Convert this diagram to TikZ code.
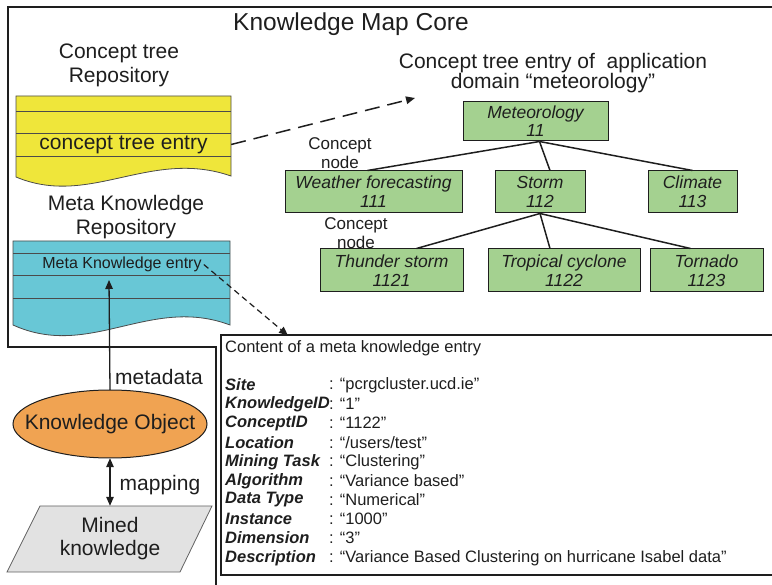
\documentclass[tikz,border=0pt]{standalone}
\usepackage{fontspec}
\setmainfont{Liberation Sans}
\usetikzlibrary{arrows.meta,calc}

\definecolor{frameink}{HTML}{1E1E1E}
\definecolor{docyellow}{HTML}{EFE63A}
\definecolor{doccyan}{HTML}{68C7D6}
\definecolor{objorange}{HTML}{F0A352}
\definecolor{minedgray}{HTML}{E2E2E2}
\definecolor{treegreen}{HTML}{A4D190}

\newcommand{\fsz}[2]{\fontsize{#1}{#2}\selectfont}

\tikzset{
  heading/.style={align=center, inner sep=0pt, font=\fsz{21}{24}},
  treebox/.style={draw=frameink, line width=1pt, fill=treegreen, align=center,
    inner sep=0pt, font=\fsz{17.5}{19}\itshape},
  treeedge/.style={line width=1.5pt, draw=frameink},
  smalllabel/.style={align=center, inner sep=0pt, font=\fsz{17}{19}},
  fieldname/.style={anchor=west, inner sep=0pt, font=\fsz{16.5}{19}\bfseries\itshape},
  fieldvalue/.style={anchor=west, inner sep=0pt, font=\fsz{16.5}{19}},
  docshape/.style={draw=frameink!80, line width=0.8pt},
  tip/.style={-{Triangle[length=9pt,width=7.5pt]}},
}

\begin{document}
\begin{tikzpicture}[x=1pt, y=-1pt, text=frameink]
\useasboundingbox (0,0) rectangle (772,585);

% outer frame of the knowledge map core
\draw[line width=2.2pt, draw=frameink] (790,7) -- (8,7) -- (8,347) -- (216,347) -- (216,600);

\node[inner sep=0pt, font=\fsz{24.5}{28}] (title) at (351,24) {Knowledge Map Core};

% concept tree repository (document shape)
\node[heading] (ctrepo) at (119,65) {Concept tree\\Repository};
\fill[docyellow] (16,96) -- (231,96) -- (231,176)
  .. controls (150,148) and (90,208) .. (16,177) -- cycle;
\draw[docshape] (16,96) -- (231,96) -- (231,176)
  .. controls (150,148) and (90,208) .. (16,177) -- cycle;
\foreach \yy in {111,133,156} \draw[docshape] (16,\yy) -- (231,\yy);
\node[minimum width=215pt, minimum height=23pt, inner sep=0pt, font=\fsz{21}{24}]
  (ctentry) at (123.5,144.5) {concept tree entry};

% meta knowledge repository (document shape)
\node[heading] (mkrepo) at (126,217) {Meta Knowledge\\Repository};
\fill[doccyan] (13,241) -- (230,241) -- (230,325)
  .. controls (150,295) and (90,360) .. (13,325) -- cycle;
\draw[docshape] (13,241) -- (230,241) -- (230,325)
  .. controls (150,295) and (90,360) .. (13,325) -- cycle;
\foreach \yy in {253,275,298} \draw[docshape] (13,\yy) -- (230,\yy);
\node[inner sep=2pt, font=\fsz{16}{19}] (mkentry) at (122,264.5) {Meta Knowledge entry};
\coordinate (mktarget) at (109,280);

% concept tree of the meteorology domain
\node[heading, font=\fsz{21}{20}] (treetitle) at (553,73)
  {Concept tree entry of \ application\\domain “meteorology”};
\coordinate (treearrow) at (415,98);

\node[treebox, minimum width=145pt, minimum height=39pt, font=\fsz{17.5}{18}\itshape]
  (met) at (535.5,121.5) {Meteorology\\11};
\node[treebox, minimum width=177pt, minimum height=42pt] (wf) at (373.5,192) {Weather forecasting\\111};
\node[treebox, minimum width=90pt, minimum height=42pt] (st) at (540,192) {Storm\\112};
\node[treebox, minimum width=89pt, minimum height=42pt] (cl) at (692.5,192) {Climate\\113};
\node[treebox, minimum width=143pt, minimum height=43pt] (ts) at (391.5,270.5) {Thunder storm\\1121};
\node[treebox, minimum width=152pt, minimum height=43pt] (tc) at (564,270.5) {Tropical cyclone\\1122};
\node[treebox, minimum width=113pt, minimum height=43pt] (tn) at (706.5,270.5) {Tornado\\1123};

\draw[treeedge] ($(met.south)+(4,0)$) -- ($(wf.north)+(-6,0)$);
\draw[treeedge] ($(met.south)+(4,0)$) -- ($(st.north)+(10,0)$);
\draw[treeedge] ($(met.south)+(4,0)$) -- (cl.north);
\draw[treeedge] (st.south) -- ($(ts.north)+(25,0)$);
\draw[treeedge] (st.south) -- ($(tc.north)+(-14,0)$);
\draw[treeedge] (st.south) -- ($(tn.north)+(-16,0)$);

\node[smalllabel] (cn1) at (340,153.5) {Concept\\node};
\node[smalllabel] (cn2) at (356,233.5) {Concept\\node};

% dashed references to the entries
\draw[tip, dash pattern=on 15pt off 8pt, line width=1.5pt, draw=frameink]
  (ctentry.east) -- (treearrow);
\coordinate (cboxtop) at (288,335.5);
\draw[tip, dash pattern=on 6pt off 4pt, line width=1.2pt, draw=frameink]
  (mkentry.east) -- (cboxtop);

% knowledge object and mined knowledge
\draw[draw=frameink, line width=1pt, fill=objorange] (110,424) ellipse [x radius=97, y radius=34];
\node[inner sep=0pt, minimum width=194pt, minimum height=68pt, font=\fsz{21}{24}]
  (ko) at (110,424) {Knowledge Object};
\draw[tip, line width=1.3pt, draw=frameink] (ko.north) -- (mktarget);
\node[inner sep=0pt, font=\fsz{21}{24}] (metalabel) at (159,377) {metadata};

\fill[minedgray] (40,506) -- (212,506) -- (180,572) -- (7,572) -- cycle;
\draw[draw=frameink!70, line width=0.8pt] (40,506) -- (212,506) -- (180,572) -- (7,572) -- cycle;
\node[align=center, inner sep=0pt, minimum height=66pt, minimum width=140pt,
  font=\fsz{21}{23}] (mk) at (110,539) {Mined\\knowledge};
\draw[{Triangle[length=9pt,width=7.5pt]}-{Triangle[length=9pt,width=7.5pt]},
  line width=1.3pt, draw=frameink] (ko.south) -- (mk.north);
\node[inner sep=0pt, font=\fsz{21}{24}] (maplabel) at (160,485) {mapping};

% content of a meta knowledge entry
\draw[line width=1.1pt, draw=frameink] (790,335) -- (221,335) -- (221,575) -- (790,575);
\node[anchor=west, inner sep=0pt, font=\fsz{16.5}{19}] (chead) at (225,348)
  {Content of a meta knowledge entry};

\foreach \nm/\val/\yy [count=\i] in {
  Site/{: “pcrgcluster.ucd.ie”}/385,
  KnowledgeID/{: “1”}/404,
  ConceptID/{: “1122”}/423,
  Location/{: “/users/test”}/443,
  Mining Task/{: “Clustering”}/462,
  Algorithm/{: “Variance based”}/481,
  Data Type/{: “Numerical”}/500,
  Instance/{: “1000”}/519,
  Dimension/{: “3”}/538,
  Description/{: “Variance Based Clustering on hurricane Isabel data”}/558} {
  \node[fieldname] (fn\i) at (225,\yy) {\nm};
  \node[fieldvalue] (fv\i) at (329,\yy) {\val};
}
\end{tikzpicture}
\end{document}
